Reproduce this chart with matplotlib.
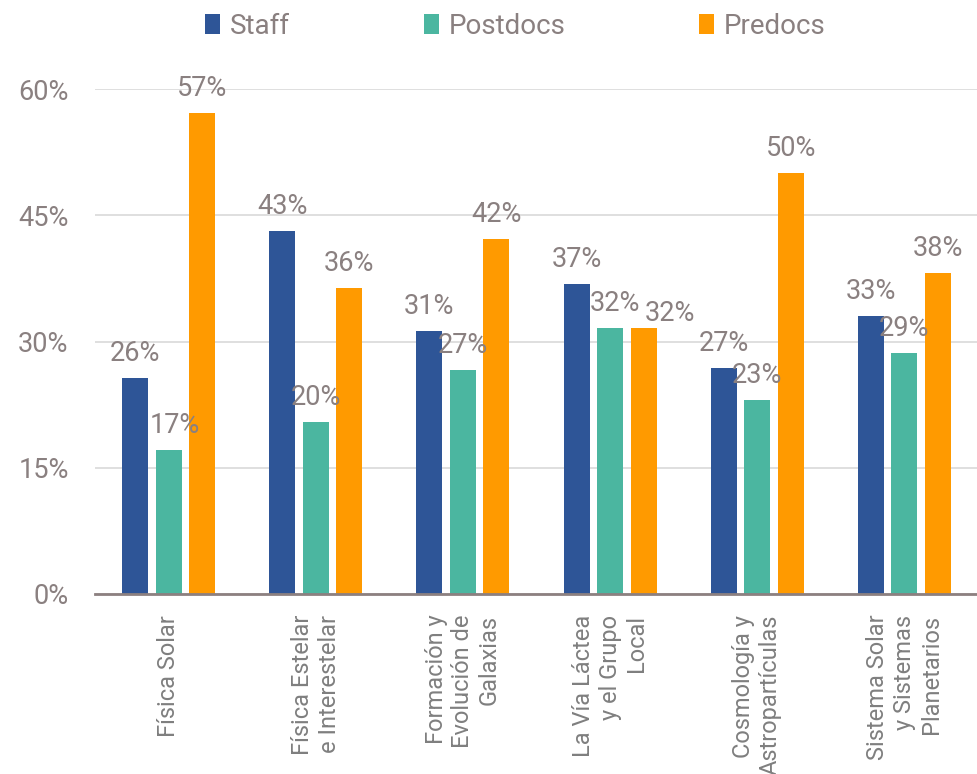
import numpy as np
import matplotlib; matplotlib.use("Agg"); import matplotlib.pyplot as plt
from matplotlib.ticker import FuncFormatter

categories = ["Física Solar", "Física Estelar\ne Interestelar", "Formación y\nEvolución de\nGalaxias",
              "La Vía Láctea\ny el Grupo\nLocal", "Cosmología y\nAstropartículas",
              "Sistema Solar\ny Sistemas\nPlanetarios"]
series = ["Staff", "Postdocs", "Predocs"]
staff = [25.7, 43.1, 31.2, 36.8, 26.9, 33.0]
postdocs = [17.1, 20.4, 26.6, 31.6, 23.1, 28.6]
predocs = [57.1, 36.4, 42.2, 31.6, 50.0, 38.1]
yticks = [0, 15, 30, 45, 60]

colors = ["#2e5597", "#4bb6a0", "#ff9a00"]
txt = "#8a8080"
plt.rcParams["font.family"] = ["Roboto", "DejaVu Sans"]

# label nudges (series, category) -> (dx, dy) so the touching labels stay readable
nudge = {(1, 0): (0.04, 0), (2, 3): (0.18, -1.2), (1, 3): (0.03, 0)}

fig = plt.figure(figsize=(9.78, 7.74), dpi=100)
ax = fig.add_axes([95/978, 1-594/774, 883/978, 505/774])
x = np.arange(len(categories)); w = 0.177; off = 0.228
for i, (vals, name, c) in enumerate(zip([staff, postdocs, predocs], series, colors)):
    xs = x + (i-1)*off
    ax.bar(xs, vals, w, color=c, label=name, zorder=3)
    for j, (xi, v) in enumerate(zip(xs, vals)):
        dx, dy = nudge.get((i, j), (0, 0))
        ax.text(xi+dx, v+1.3+dy, f"{round(v):.0f}%", ha="center", va="bottom", fontsize=19.5,
                color=txt, zorder=4)

ax.set_xlim(-0.5, len(categories)-0.5); ax.set_ylim(0, 60)
ax.set_yticks(yticks)
ax.yaxis.set_major_formatter(FuncFormatter(lambda v, p: f"{v:.0f}%"))
ax.grid(axis="y", color="#d9d9d9", lw=1.2, zorder=0)
for s in ["top", "right", "left"]: ax.spines[s].set_visible(False)
ax.spines["bottom"].set_color("#8c8080"); ax.spines["bottom"].set_linewidth(2); ax.spines["bottom"].set_zorder(5)
ax.tick_params(axis="y", length=0, pad=19, labelsize=19.5, labelcolor=txt)
ax.tick_params(axis="x", length=0, pad=15)
ax.set_xticks(x)
ax.set_xticklabels(categories, rotation=90, fontsize=17, color="#7f7f7f", va="top", ha="center",
                   multialignment="right")

fig.legend(loc="upper center", bbox_to_anchor=(0.527, 1.016), ncol=3, frameon=False,
           prop={"size": 20},
           handlelength=0.55, handleheight=0.75, handletextpad=0.35, columnspacing=4.8, labelcolor=txt)
fig.savefig("out.png", dpi=100)
